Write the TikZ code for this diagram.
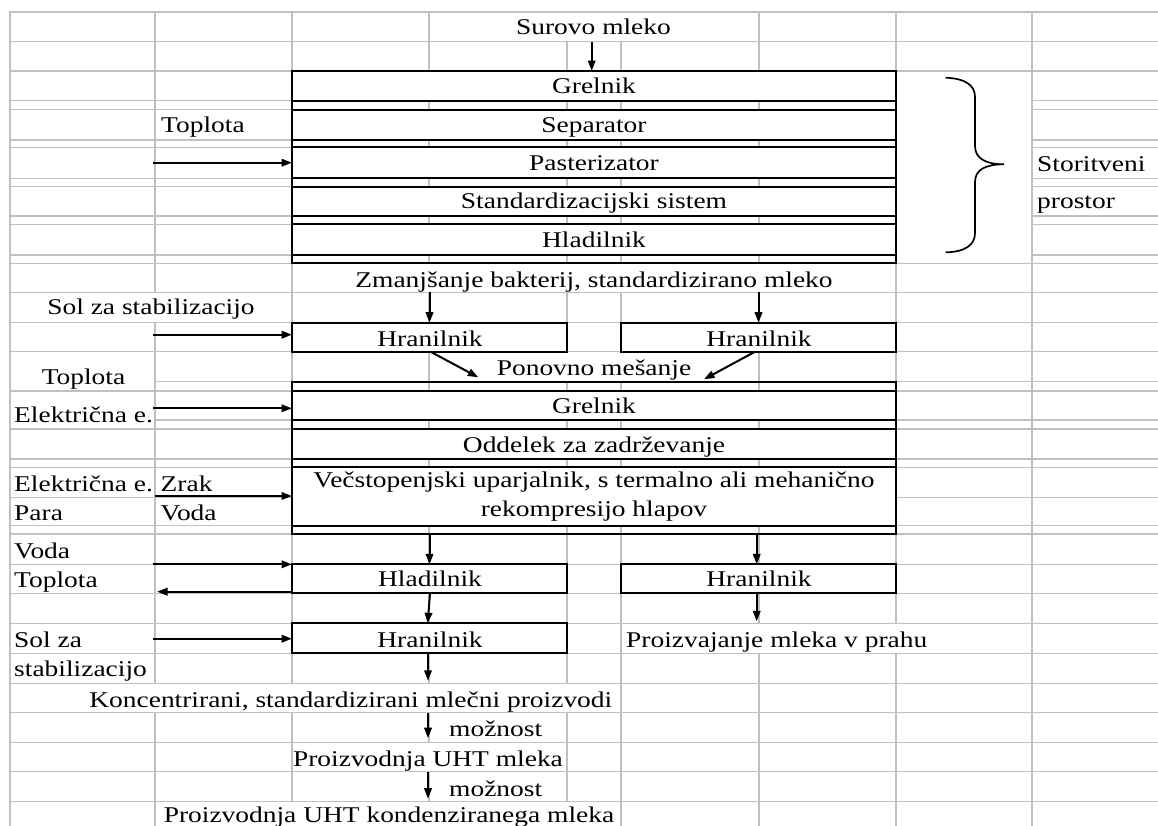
\documentclass[tikz,border=0pt]{standalone}
\usepackage{fontspec}
\setmainfont{Liberation Serif}[FakeStretch=1.22]
\usetikzlibrary{arrows.meta}
\definecolor{gridgrey}{HTML}{C0C0C0}
\begin{document}
\begin{tikzpicture}[x=1pt,y=-1pt,
  gridline/.style={draw=gridgrey, line width=1.4pt},
  masked/.style={fill=white, draw=none},
  stagebox/.style={draw=black, line width=2.2pt, fill=white, inner sep=0pt, outer sep=0pt, anchor=north west},
  blockbox/.style={draw=black, line width=2.2pt, inner sep=0pt, outer sep=0pt, anchor=north west},
  txt/.style={inner sep=0pt, anchor=base, font=\fontsize{22.5}{27}\selectfont},
  txtw/.style={txt, anchor=base west},
  arrowline/.style={-{Triangle[length=10.5pt,width=7.5pt]}, line width=2pt},
  bracepath/.style={line width=1.7pt}
]
\clip (0,0) rectangle (1158,825);
\fill[white] (0,0) rectangle (1158,825);
% grid
\foreach \yy in {12,41.3,71,100.7,109.7,140,147.3,178.3,186.7,216,224.3,255,263.3,292.7,322.7,351.7,381.7,391,420,429,459,467.3,497.3,525.7,534,564.3,593.3,623.3,653.3,683.3,712.7,742.3,771.7,801.7}
  \draw[gridline] (9.3,\yy) -- (1160,\yy);
\foreach \xx in {10,155,292,429,567,621,759,896,1032}
  \draw[gridline] (\xx,11.3) -- (\xx,830);
% merged / overflow cells
\fill[masked] (430,12.8) rectangle (758,40.6);
\fill[masked] (293,264.1) rectangle (895,292);
\fill[masked] (10.8,293.4) rectangle (291.2,322);
\fill[masked] (430,352.4) rectangle (758,381);
\fill[masked] (10.8,352.4) rectangle (154.2,390.3);
\fill[masked] (10.8,391.7) rectangle (154.2,428.3);
\fill[masked] (622,624) rectangle (1031.2,652.6);
\fill[masked] (10.8,684) rectangle (620.2,712);
\fill[masked] (293,743) rectangle (566.2,771);
\fill[masked] (155.8,802.4) rectangle (620.2,830);
\fill[masked] (896.8,71.8) rectangle (1031.2,262.5);
% upper block
\node[stagebox, minimum width=604, minimum height=29.7] (g1) at (292,71) {};
\node[stagebox, minimum width=604, minimum height=30.3] (sep) at (292,109.7) {};
\node[stagebox, minimum width=604, minimum height=31] (past) at (292,147.3) {};
\node[stagebox, minimum width=604, minimum height=29.3] (std) at (292,186.7) {};
\node[stagebox, minimum width=604, minimum height=30.7] (hlad1) at (292,224.3) {};
\node[blockbox, minimum width=604, minimum height=192.3] (blockA) at (292,71) {};
% storage tanks
\node[stagebox, minimum width=275, minimum height=29] (hranL) at (292,322.7) {};
\node[stagebox, minimum width=275, minimum height=29] (hranR) at (621,322.7) {};
% lower block
\node[stagebox, minimum width=604, minimum height=29] (g2) at (292,391) {};
\node[stagebox, minimum width=604, minimum height=30] (odd) at (292,429) {};
\node[stagebox, minimum width=604, minimum height=58.4] (vec) at (292,467.3) {};
\node[blockbox, minimum width=604, minimum height=152.3] (blockB) at (292,381.7) {};
% bottom boxes
\node[stagebox, minimum width=275, minimum height=29] (hlad2) at (292,564.3) {};
\node[stagebox, minimum width=275, minimum height=29] (hranR2) at (621,564.3) {};
\node[stagebox, minimum width=275, minimum height=30] (hranL2) at (292,623.3) {};
% texts
\node[txt] (surovo) at (593.5,34.3) {Surovo mleko};
\node[txt] (tg1) at (594,93.3) {Grelnik};
\node[txt] (tsep) at (594,132.5) {Separator};
\node[txt] (tpast) at (594,170.8) {Pasterizator};
\node[txt] (tstd) at (594,208.8) {Standardizacijski sistem};
\node[txt] (thlad1) at (594,247.5) {Hladilnik};
\node[txtw] (topl1) at (161,132.5) {Toplota};
\node[txtw] (stor) at (1037,171.3) {Storitveni};
\node[txtw] (prost) at (1037,208.3) {prostor};
\node[txt] (zman) at (594,287) {Zmanjšanje bakterij, standardizirano mleko};
\node[txt] (sol1) at (151,314.3) {Sol za stabilizacijo};
\node[txt] (thranL) at (430,346) {Hranilnik};
\node[txt] (thranR) at (759,346) {Hranilnik};
\node[txt] (ponov) at (594,375) {Ponovno mešanje};
\node[txt] (topl2) at (83.5,384) {Toplota};
\node[txtw] (elek1) at (14,422) {Električna e.};
\node[txt] (tg2) at (594,413.3) {Grelnik};
\node[txt] (todd) at (594,452) {Oddelek za zadrževanje};
\node[txtw] (elek2) at (14,491.5) {Električna e.};
\node[txtw] (zrak) at (160.5,491.5) {Zrak};
\node[txtw] (para) at (14,520) {Para};
\node[txtw] (voda1) at (160.5,520) {Voda};
\node[txt] (tvec1) at (594,487.7) {Večstopenjski uparjalnik, s termalno ali mehanično};
\node[txt] (tvec2) at (594,516.7) {rekompresijo hlapov};
\node[txtw] (voda2) at (14,558.3) {Voda};
\node[txtw] (topl3) at (14,587.7) {Toplota};
\node[txt] (thlad2) at (430,586.8) {Hladilnik};
\node[txt] (thranR2) at (759,586.8) {Hranilnik};
\node[txtw] (solza) at (14,647.3) {Sol za};
\node[txt] (thranL2) at (430,647) {Hranilnik};
\node[txtw] (proizv) at (626,647.3) {Proizvajanje mleka v prahu};
\node[txtw] (stab) at (14,676.5) {stabilizacijo};
\node[txt] (konc) at (350.8,707.7) {Koncentrirani, standardizirani mlečni proizvodi};
\node[txtw] (mozn1) at (449,736.7) {možnost};
\node[txt] (uht) at (428,766.7) {Proizvodnja UHT mleka};
\node[txtw] (mozn2) at (449,796.7) {možnost};
\node[txt] (uhtk) at (389,822.5) {Proizvodnja UHT kondenziranega mleka};
% free ends
\coordinate (s1) at (591.7,42);
\coordinate (pL) at (478.3,377.3);
\coordinate (pR) at (704,379.3);
\coordinate (inA) at (153,162.7);
\coordinate (inB) at (153,334.7);
\coordinate (inC) at (153,408.3);
\coordinate (inD) at (155,496);
\coordinate (inE) at (153,564.3);
\coordinate (outF) at (157,591.7);
\coordinate (inG) at (153,638.7);
% connectors
\draw[arrowline] (s1) -- (s1 |- g1.north);
\draw[arrowline] (zman.south -| hranL.north) -- (hranL.north);
\draw[arrowline] (zman.south -| hranR.north) -- (hranR.north);
\draw[arrowline] ([xshift=1pt]hranL.south) -- (pL);
\draw[arrowline] ([xshift=-3.5pt]hranR.south) -- (pR);
\draw[arrowline] (blockB.south -| hlad2.north) -- (hlad2.north);
\draw[arrowline] ([xshift=-1.8pt]blockB.south -| hranR2.north) -- ([xshift=-1.8pt]hranR2.north);
\draw[arrowline] ([xshift=0.5pt]hlad2.south) -- ([xshift=-1.8pt]hranL2.north);
\draw[arrowline] ([xshift=-1.8pt]hranR2.south) -- ++(0,28);
\draw[arrowline] ([xshift=-1.5pt]hranL2.south) -- ++(0,27.5);
\draw[arrowline] (konc.south -| uht.north) -- ++(0,25.5);
\draw[arrowline] (uht.south) -- ++(0,27);
\draw[arrowline] (inA) -- (inA -| past.west);
\draw[arrowline] (inB) -- (inB -| hranL.west);
\draw[arrowline] (inC) -- (inC -| g2.west);
\draw[arrowline] (inD) -- (inD -| vec.west);
\draw[arrowline] (inE) -- (inE -| hlad2.west);
\draw[arrowline] (outF -| hlad2.west) -- (outF);
\draw[arrowline] (inG) -- (inG -| hranL2.west);
% brace
\draw[bracepath] (945.7,77.7) .. controls (965,78.5) and (975,85) .. (975,97) -- (975,146) .. controls (975,158) and (985,164.3) .. (1004,164.3) .. controls (985,164.3) and (975,170) .. (975,182) -- (975,233) .. controls (975,245) and (965,252) .. (945.7,252.3);
\end{tikzpicture}
\end{document}
